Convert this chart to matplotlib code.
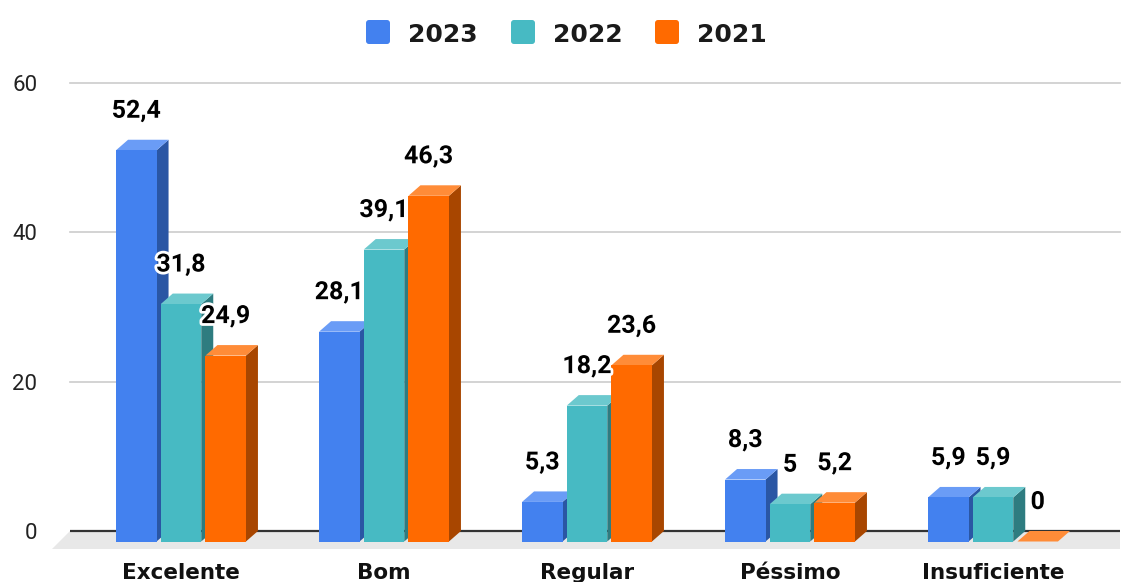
import matplotlib
matplotlib.use("Agg")
import matplotlib.pyplot as plt
from matplotlib.patches import Polygon, FancyBboxPatch
import matplotlib.patheffects as pe

categories = ["Excelente", "Bom", "Regular", "Péssimo", "Insuficiente"]
series_names = ["2023", "2022", "2021"]
values_2023 = [52.4, 28.1, 5.3, 8.3, 5.9]
values_2022 = [31.8, 39.1, 18.2, 5.0, 5.9]
values_2021 = [24.9, 46.3, 23.6, 5.2, 0.0]
value_labels_2023 = ["52,4", "28,1", "5,3", "8,3", "5,9"]
value_labels_2022 = ["31,8", "39,1", "18,2", "5", "5,9"]
value_labels_2021 = ["24,9", "46,3", "23,6", "5,2", "0"]
yticks = [0, 20, 40, 60]

series_values = [values_2023, values_2022, values_2021]
series_labels = [value_labels_2023, value_labels_2022, value_labels_2021]
front_colors = ["#4381EF", "#47BAC3", "#FF6A00"]
side_colors = ["#2A56A4", "#2E7C80", "#A84600"]
top_colors = ["#6A9CF6", "#6CC9CE", "#FF8C38"]

W, H = 1122, 582
fig = plt.figure(figsize=(W / 100, H / 100), dpi=100)

# axes pixel box
px_left, px_right = 70, 1120
px_top, px_bottom = 83, 549
ax = fig.add_axes([px_left / W, (H - px_bottom) / H,
                   (px_right - px_left) / W, (px_bottom - px_top) / H])
cat_px = 203.0
center0 = 181.0
ypx_per = (531 - 83) / 60.0
ax.set_xlim((px_left - center0) / cat_px, (px_right - center0) / cat_px)
ax.set_ylim(-(px_bottom - 531) / ypx_per, 60)
for s in ax.spines.values():
    s.set_visible(False)
ax.set_xticks([])
ax.set_yticks(yticks)
ax.set_yticklabels([str(t) for t in yticks], fontsize=16, color="#222222",
                   family="Roboto")
ax.tick_params(axis="y", length=0, pad=23.5)
for t in yticks[1:]:
    ax.axhline(t, color="#cccccc", lw=1.2, zorder=0.5, clip_on=False)
ax.axhline(0, color="#333333", lw=1.6, zorder=0.6)

# floor
fdy = (px_bottom - 531) / ypx_per
xl = ax.get_xlim()[0]
xr = ax.get_xlim()[1]
skew = 18 / cat_px
floor = Polygon([(xl, 0), (xr, 0), (xr, -fdy), (xl - skew, -fdy)],
                closed=True, facecolor="#e8e8e8", edgecolor="none",
                zorder=0.2, clip_on=False)
ax.add_patch(floor)

# 3D bars
bw = 40.5 / cat_px
step = 44.7 / cat_px
dx = 12 / cat_px
dy = 10.5 / ypx_per
for si, (vals, labs) in enumerate(zip(series_values, series_labels)):
    for ci, v in enumerate(vals):
        xc = ci + (si - 1) * step
        x0 = xc - bw / 2
        x1 = xc + bw / 2
        front = Polygon([(x0, -dy), (x1, -dy), (x1, v - dy), (x0, v - dy)],
                        closed=True, facecolor=front_colors[si],
                        edgecolor="none", zorder=3, clip_on=False)
        side = Polygon([(x1, -dy), (x1 + dx, 0), (x1 + dx, v), (x1, v - dy)],
                       closed=True, facecolor=side_colors[si],
                       edgecolor="none", zorder=2.5, clip_on=False)
        top = Polygon([(x0, v - dy), (x1, v - dy), (x1 + dx, v), (x0 + dx, v)],
                      closed=True, facecolor=top_colors[si],
                      edgecolor="none", zorder=2.6, clip_on=False)
        for p in (side, top, front):
            ax.add_patch(p)
        ax.annotate(labs[ci], (xc, v), xytext=(0, 22),
                    textcoords="offset pixels", ha="center", va="baseline",
                    fontsize=18, fontweight="bold", family="Roboto",
                    color="black", zorder=5, annotation_clip=False,
                    path_effects=[pe.withStroke(linewidth=4, foreground="white")])

# category labels
for ci, c in enumerate(categories):
    ax.text(ci, -(579 - 531) / ypx_per, c, ha="center", va="baseline",
            fontsize=15.5, fontweight="bold", family="DejaVu Sans",
            color="#111111", clip_on=False)

# legend (overlay axes in pixel coordinates)
lax = fig.add_axes([0, 0, 1, 1], facecolor="none")
lax.set_xlim(0, W)
lax.set_ylim(H, 0)
lax.axis("off")
leg_sq_x = [366, 511, 655]
for i, name in enumerate(series_names):
    sq = FancyBboxPatch((leg_sq_x[i] + 2, 22), 20, 20,
                        boxstyle="round,pad=2,rounding_size=3",
                        facecolor=front_colors[i], edgecolor="none")
    lax.add_patch(sq)
    lax.text(leg_sq_x[i] + 42, 32, name, ha="left", va="center_baseline",
             fontsize=18, fontweight="bold", family="DejaVu Sans",
             color="#1a1a1a")

fig.savefig("out.png", dpi=100)
